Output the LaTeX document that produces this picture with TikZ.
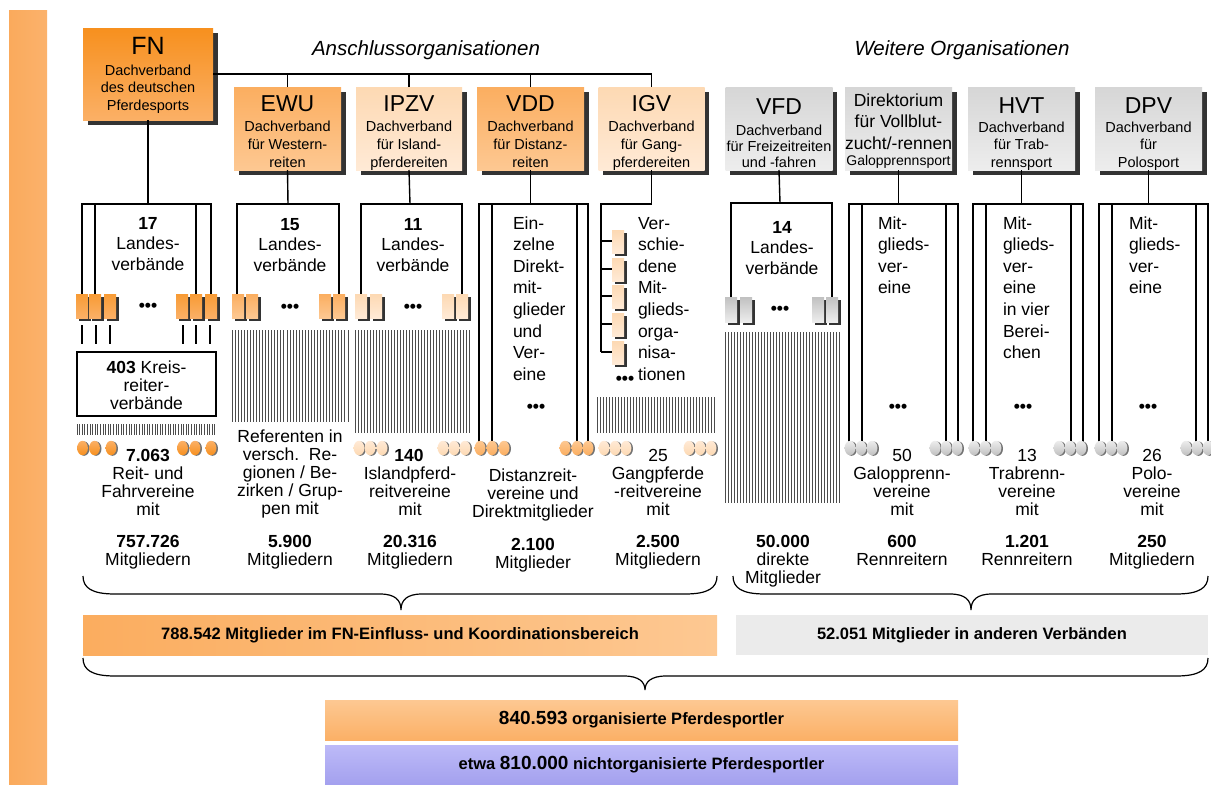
\documentclass[tikz,border=0pt]{standalone}
\usepackage{fontspec}
\setmainfont{Liberation Sans}
\usetikzlibrary{shadows}

\definecolor{shadowc}{HTML}{333333}
\definecolor{fnA}{HTML}{F7901E}
\definecolor{fnB}{HTML}{FBB066}
\definecolor{orA}{HTML}{FBAE60}
\definecolor{orB}{HTML}{FDC892}
\definecolor{peA}{HTML}{FDD9B3}
\definecolor{peB}{HTML}{FFEAD6}
\definecolor{grA}{HTML}{D6D6D6}
\definecolor{grB}{HTML}{EDEDED}
\definecolor{barL}{HTML}{FAAA5C}
\definecolor{barM}{HTML}{FDCB98}
\definecolor{barR}{HTML}{FBB26C}
\definecolor{lavA}{HTML}{BDBAF8}
\definecolor{lavB}{HTML}{A3A0EE}

% small shaded block with a dark offset shadow: centre x, top y, height, shading style
\newcommand\mrect[4]{%
  \fill[shadowc] ({#1-6+2.5},{#2+2.5}) rectangle ({#1+6+2.5},{#2+#3+2.5});
  \shade[#4] ({#1-6},{#2}) rectangle ({#1+6},{#2+#3});}
% oval club marker: centre x, centre y, shading style
\newcommand\disc[3]{%
  \fill[black!55] ({#1+1.6},{#2+0.6}) ellipse (5.4 and 7.2);
  \shade[#3] (#1,#2) ellipse (5.4 and 7.2);}
% row of thin vertical strokes: start x, count, spacing, top y, bottom y
\newcommand\hatch[5]{%
  \foreach \k in {0,...,#2}{\draw[hatchl] ({#1+#3*\k},#4) -- ({#1+#3*\k},#5);}}

\begin{document}
\begin{tikzpicture}[x=1pt,y=-1pt,
  every node/.style={inner sep=0pt, outer sep=0pt},
  conn/.style={line width=1.4pt, black},
  boxl/.style={line width=1.1pt, black},
  hatchl/.style={line width=0.8pt, black!70},
  bracel/.style={line width=1.2pt, black},
  shadowbox/.style={drop shadow={shadow xshift=4.5pt,shadow yshift=-4.5pt,fill=shadowc,opacity=1}},
  tbox/.style={shadowbox, minimum width=#1, minimum height=83pt},
  fnbox/.style={shadowbox, top color=fnA, bottom color=fnB, minimum width=130pt, minimum height=92pt},
  orbox/.style={tbox=107pt, top color=orA, bottom color=orB},
  pebox/.style={tbox=106pt, top color=peA, bottom color=peB},
  grbox/.style={tbox=107pt, top color=grA, bottom color=grB},
  fnsm/.style={top color=fnA!90!white, bottom color=fnB},
  orsm/.style={top color=orA, bottom color=orB},
  pesm/.style={top color=peA, bottom color=peB},
  grsm/.style={top color=grA!90!black, bottom color=grB},
  fndisc/.style={top color=fnB, bottom color=fnA},
  ordisc/.style={top color=orB, bottom color=orA},
  pedisc/.style={top color=peB, bottom color=peA},
  grdisc/.style={top color=grB, bottom color=grA!90!black},
  abbr/.style={font=\fontsize{23}{23}\selectfont, anchor=base},
  sub/.style={font=\fontsize{14.5}{18}\selectfont, align=center, anchor=base},
  lv/.style={font=\fontsize{17.5}{20.5}\selectfont, align=center, anchor=base},
  lvl/.style={font=\fontsize{17.5}{21.6}\selectfont, align=left, anchor=base west},
  lb/.style={font=\fontsize{17.5}{18}\selectfont, align=center, anchor=base},
  dots/.style={font=\fontsize{17.5}{18}\selectfont\bfseries},
  title/.style={font=\fontsize{20.5}{20.5}\selectfont\itshape, anchor=base},
  bartext/.style={font=\fontsize{16.5}{17}\selectfont\bfseries, minimum height=40pt}
]
\useasboundingbox (0,0) rectangle (1211,785);
\fill[white] (0,0) rectangle (1211,785);

% side band
\shade[left color=barL, middle color=barM, right color=barR] (9,10) rectangle (47,785);

% group titles
\node[title] (t1) at (426,55) {Anschlussorganisationen};
\node[title] (t2) at (962,55) {Weitere Organisationen};

% umbrella associations
\node[fnbox] (fn) at (148,74) {};
\node[orbox] (ewu) at (287.5,128.5) {};
\node[pebox] (ipzv) at (409,128.5) {};
\node[orbox] (vdd) at (530.5,128.5) {};
\node[pebox] (igv) at (651.5,128.5) {};
\node[grbox] (vfd) at (779,128.5) {};
\node[grbox] (direk) at (898.5,128.5) {};
\node[grbox] (hvt) at (1021.5,128.5) {};
\node[grbox] (dpv) at (1148.5,128.5) {};

% (multi-line nodes are placed by the baseline of their last line)
\node[abbr, font=\fontsize{25}{25}\selectfont] (fnA) at (148,54) {FN};
\node[sub, font=\fontsize{14.5}{17.5}\selectfont] (fnS) at (148,110) {Dachverband\\des deutschen\\Pferdesports};
\node[abbr] (ewuA) at (287.5,111) {EWU};
\node[sub] (ewuS) at (287.5,167) {Dachverband\\für Western-\\reiten};
\node[abbr] (ipzvA) at (409,111) {IPZV};
\node[sub] (ipzvS) at (409,167) {Dachverband\\für Island-\\pferdereiten};
\node[abbr] (vddA) at (530.5,111) {VDD};
\node[sub] (vddS) at (530.5,167) {Dachverband\\für Distanz-\\reiten};
\node[abbr] (igvA) at (651.5,111) {IGV};
\node[sub] (igvS) at (651.5,167) {Dachverband\\für Gang-\\pferdereiten};
\node[abbr] (vfdA) at (779,114) {VFD};
\node[sub, font=\fontsize{14.5}{16}\selectfont] (vfdS) at (779,167) {Dachverband\\für Freizeitreiten\\und -fahren};
\node[sub, font=\fontsize{17.5}{21.5}\selectfont] (direkS) at (898.5,149) {Direktorium\\für Vollblut-\\zucht/-rennen};
\node[sub, font=\fontsize{14}{14}\selectfont] (direkG) at (898.5,165) {Galopprennsport};
\node[abbr] (hvtA) at (1021.5,113) {HVT};
\node[sub, font=\fontsize{14.5}{17.5}\selectfont] (hvtS) at (1021.5,167) {Dachverband\\für Trab-\\rennsport};
\node[abbr] (dpvA) at (1148.5,113) {DPV};
\node[sub, font=\fontsize{14.5}{17.5}\selectfont] (dpvS) at (1148.5,167) {Dachverband\\für\\Polosport};

% affiliation line
\draw[conn] (fn.east) -- (fn.east -| igv.north) -- (igv.north);
\foreach \b in {ewu,ipzv,vdd} \draw[conn] (\b.north) -- (\b.north |- fn.east);

% drops to the member levels
\coordinate (lvFN) at (148,204);
\coordinate (lvEWU) at (288,204);
\coordinate (lvIPZV) at (410,204);
\coordinate (lvVDD) at (530.5,204);
\coordinate (lvIGV) at (651.5,204);
\coordinate (lvVFD) at (780,203);
\coordinate (lvDIR) at (898.5,204);
\coordinate (lvHVT) at (1021.5,204);
\coordinate (lvDPV) at (1148.5,204);
\draw[conn] (fn.south) -- (lvFN);
\draw[conn] (ewu.south) -- (lvEWU);
\draw[conn] (ipzv.south) -- (lvIPZV);
\draw[conn] (vdd.south) -- (lvVDD);
\draw[conn] (igv.south) -- (lvIGV) -- (601,204) -- (601,352);
\draw[conn] (vfd.south) -- (lvVFD);
\draw[conn] (direk.south) -- (lvDIR);
\draw[conn] (hvt.south) -- (lvHVT);
\draw[conn] (dpv.south) -- (lvDPV);

% FN: state associations
\draw[boxl] (82,296) -- (82,204) -- (211,204) -- (211,296);
\draw[boxl] (95,296) -- (95,204) (196,204) -- (196,296);
\foreach \x in {82,95,110,182,196,211} \mrect{\x}{294}{24}{fnsm};
\foreach \x in {82,96,110,183,196,210} \draw[boxl] (\x,325) -- (\x,344);
\node[draw, line width=1.1pt, minimum width=139pt, minimum height=64pt] (kreis) at (146.5,384) {};
\node[lb] (kreisT) at (146.5,409) {\textbf{403} Kreis-\\reiter-\\verbände};
\hatch{77}{53}{2.6}{424}{435}

% EWU
\draw[boxl] (237,296) -- (237,204) -- (339,204) -- (339,296);
\foreach \x in {238,252,325,339} \mrect{\x}{294}{24}{orsm};
\hatch{232}{38}{3.05}{330}{422}

% IPZV
\draw[boxl] (361,296) -- (361,204) -- (462,204) -- (462,296);
\foreach \x in {361,376,448,462} \mrect{\x}{294}{24}{pesm};
\hatch{355}{38}{3.0}{330}{433}

% VDD
\draw[boxl] (479,442) -- (479,204) -- (588,204) -- (588,442);
\draw[boxl] (492,442) -- (492,204) (577,204) -- (577,442);

% IGV member organisations
\foreach \y in {241,269,296,324,352}{
  \draw[boxl] (601,\y) -- (612,\y);
  \mrect{618}{\y-11}{23}{pesm}}
\hatch{597}{39}{3.0}{397}{433}

% VFD
\draw[boxl] (731,299) -- (731,203) -- (832,203) -- (832,299);
\foreach \x in {731,746,818,832} \mrect{\x}{297}{25}{grsm};
\hatch{725}{38}{3.0}{332}{503}

% Direktorium, HVT, DPV
\draw[boxl] (849,442) -- (849,204) -- (958,204) -- (958,442);
\draw[boxl] (862,442) -- (862,204) (946,204) -- (946,442);
\draw[boxl] (973,442) -- (973,204) -- (1083,204) -- (1083,442);
\draw[boxl] (986,442) -- (986,204) (1071,204) -- (1071,442);
\draw[boxl] (1099,442) -- (1099,204) -- (1208,204) -- (1208,442);
\draw[boxl] (1112,442) -- (1112,204) (1196,204) -- (1196,442);

% club markers
\foreach \x in {82.5,94.5,111,182.5,195,211} \disc{\x}{448}{fndisc};
\foreach \x in {359,370,382,443,454,465} \disc{\x}{448}{pedisc};
\foreach \x in {480,492,504,565,577,588} \disc{\x}{448}{ordisc};
\foreach \x in {604,615,626,689,700,711} \disc{\x}{448}{pedisc};
\foreach \x in {850,861,872,935,946,957} \disc{\x}{448}{grdisc};
\foreach \x in {974,985,996,1059,1070,1081} \disc{\x}{448}{grdisc};
\foreach \x in {1100,1111,1122,1186,1197,1208} \disc{\x}{448}{grdisc};

% member level texts
\node[lv] (lvFNt) at (148,270) {\textbf{17}\\Landes-\\verbände};
\node[lv] (lvEWUt) at (290,271) {\textbf{15}\\Landes-\\verbände};
\node[lv] (lvIPZVt) at (413,271) {\textbf{11}\\Landes-\\verbände};
\node[lv] (lvVFDt) at (782,274) {\textbf{14}\\Landes-\\verbände};
\node[lvl] (lvVDDt) at (513,380.2) {Ein-\\zelne\\Direkt-\\mit-\\glieder\\und\\Ver-\\eine};
\node[lvl] (lvIGVt) at (638,380.2) {Ver-\\schie-\\dene\\Mit-\\glieds-\\orga-\\nisa-\\tionen};
\node[lvl] (lvDIRt) at (878,293.8) {Mit-\\glieds-\\ver-\\eine};
\node[lvl] (lvHVTt) at (1003,358.6) {Mit-\\glieds-\\ver-\\eine\\in vier\\Berei-\\chen};
\node[lvl] (lvDPVt) at (1129,293.8) {Mit-\\glieds-\\ver-\\eine};

\node[dots] (d1) at (148,307) {•••};
\node[dots] (d2) at (290,308) {•••};
\node[dots] (d3) at (413,308) {•••};
\node[dots] (d4) at (780,310) {•••};
\node[dots] (d5) at (536,408) {•••};
\node[dots] (d6) at (625,380) {•••};
\node[dots] (d7) at (898,408) {•••};
\node[dots] (d8) at (1023,408) {•••};
\node[dots] (d9) at (1148,408) {•••};

% club counts and members
\node[lb] (cFN) at (148,461) {\textbf{7.063}};
\node[lb] (vFN) at (148,515) {Reit- und\\Fahrvereine\\mit};
\node[lb] (mFN) at (148,565) {\textbf{757.726}\\Mitgliedern};
\node[lb] (vEWU) at (290,514) {Referenten in\\versch.\ \ Re-\\gionen / Be-\\zirken / Grup-\\pen mit};
\node[lb] (mEWU) at (290,565) {\textbf{5.900}\\Mitgliedern};
\node[lb] (cIPZV) at (409,461) {\textbf{140}};
\node[lb] (vIPZV) at (410,515) {Islandpferd-\\reitvereine\\mit};
\node[lb] (mIPZV) at (410,565) {\textbf{20.316}\\Mitgliedern};
\node[lb] (vVDD) at (533,517) {Distanzreit-\\vereine und\\Direktmitglieder};
\node[lb] (mVDD) at (533,568) {\textbf{2.100}\\Mitglieder};
\node[lb] (cIGV) at (658,461) {25};
\node[lb] (vIGV) at (658,515) {Gangpferde\\-reitvereine\\mit};
\node[lb] (mIGV) at (658,565) {\textbf{2.500}\\Mitgliedern};
\node[lb] (mVFD) at (783,583) {\textbf{50.000}\\direkte\\Mitglieder};
\node[lb] (cDIR) at (902,461) {50};
\node[lb] (vDIR) at (902,515) {Galopprenn-\\vereine\\mit};
\node[lb] (mDIR) at (902,565) {\textbf{600}\\Rennreitern};
\node[lb] (cHVT) at (1027,461) {13};
\node[lb] (vHVT) at (1027,515) {Trabrenn-\\vereine\\mit};
\node[lb] (mHVT) at (1027,565) {\textbf{1.201}\\Rennreitern};
\node[lb] (cDPV) at (1152,461) {26};
\node[lb] (vDPV) at (1152,515) {Polo-\\vereine\\mit};
\node[lb] (mDPV) at (1152,565) {\textbf{250}\\Mitgliedern};

% braces
\draw[bracel] (83,576) .. controls (83,588) and (92,594) .. (115,594) -- (380,594)
  .. controls (395,594) and (401,600) .. (401,610)
  .. controls (401,600) and (407,594) .. (422,594) -- (685,594)
  .. controls (708,594) and (717,588) .. (717,576);
\draw[bracel] (733,576) .. controls (733,588) and (742,594) .. (765,594) -- (950,594)
  .. controls (965,594) and (971,600) .. (971,610)
  .. controls (971,600) and (977,594) .. (992,594) -- (1176,594)
  .. controls (1199,594) and (1208,588) .. (1208,576);
\draw[bracel] (83,658) .. controls (83,670) and (92,676) .. (115,676) -- (624,676)
  .. controls (639,676) and (645,682) .. (645,690)
  .. controls (645,682) and (651,676) .. (666,676) -- (1176,676)
  .. controls (1199,676) and (1208,670) .. (1208,658);

% totals
\node[bartext, minimum width=634pt, left color=fnB!90!fnA, right color=orB] (sum1) at (400,635)
  {788.542 Mitglieder im FN-Einfluss- und Koordinationsbereich};
\node[bartext, minimum width=472pt, fill=grB!90!grA] (sum2) at (972,635)
  {52.051 Mitglieder in anderen Verbänden};
\node[bartext, minimum width=633pt, top color=orB, bottom color=fnB] (sum3) at (641.5,720)
  {{\fontsize{19}{19}\selectfont 840.593} organisierte Pferdesportler};
\node[bartext, minimum width=633pt, top color=lavA, bottom color=lavB] (sum4) at (641.5,765)
  {etwa {\fontsize{19}{19}\selectfont 810.000} nichtorganisierte Pferdesportler};
\end{tikzpicture}
\end{document}
